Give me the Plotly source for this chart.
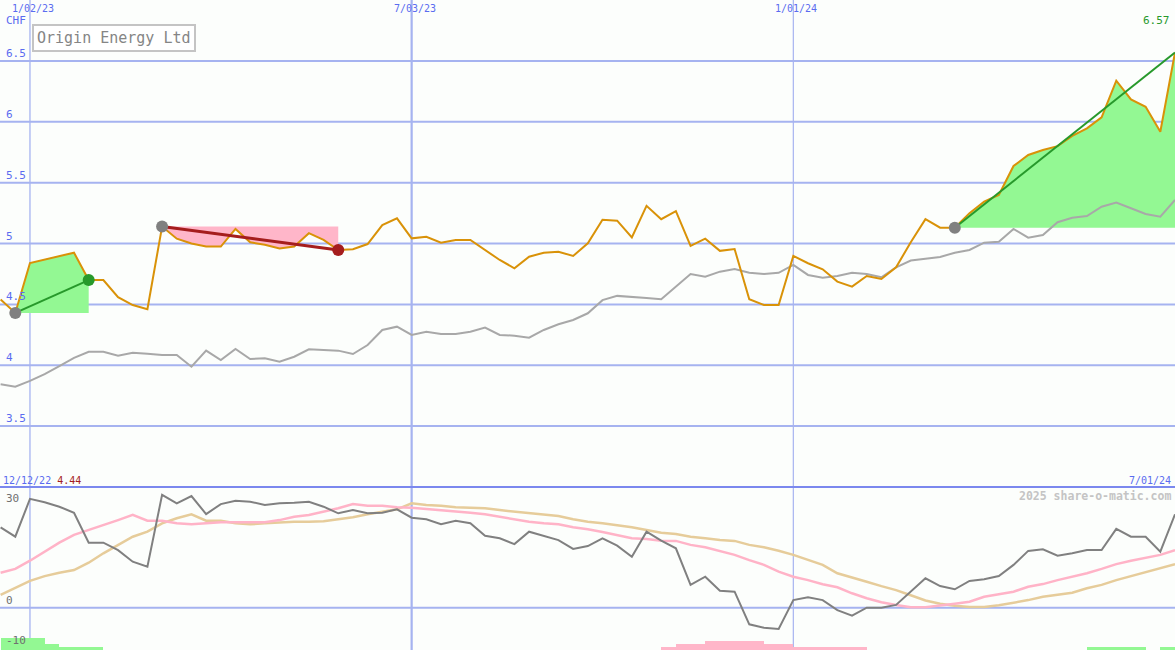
import plotly.graph_objects as go
import pandas as pd

# ---------------- data ----------------
start = pd.Timestamp("2022-12-19")
dates = [start + pd.Timedelta(weeks=i) for i in range(81)]

price = [4.54, 4.43, 4.84, 4.87, 4.90, 4.925, 4.70, 4.70, 4.56, 4.495,
         4.46, 5.14, 5.04, 5.00, 4.975, 4.975, 5.12, 5.01, 4.99, 4.96,
         4.975, 5.085, 5.03, 4.947, 4.953, 4.996, 5.152, 5.207, 5.043, 5.056,
         5.007, 5.029, 5.029, 4.947, 4.865, 4.797, 4.892, 4.925, 4.933, 4.898,
         5.002, 5.195, 5.188, 5.05, 5.31, 5.20, 5.267, 4.98, 5.04, 4.94,
         4.955, 4.542, 4.495, 4.495, 4.898, 4.838, 4.788, 4.687, 4.646, 4.733,
         4.709, 4.805, 5.01, 5.20, 5.13, 5.13, 5.25, 5.344, 5.399, 5.637,
         5.728, 5.769, 5.80, 5.884, 5.947, 6.037, 6.338, 6.185, 6.124, 5.919,
         6.57]

index_line = [3.843, 3.824, 3.871, 3.927, 3.993, 4.06, 4.111, 4.111, 4.078, 4.103,
              4.095, 4.084, 4.084, 3.988, 4.12, 4.043, 4.134, 4.051, 4.057, 4.029,
              4.07, 4.131, 4.125, 4.12, 4.092, 4.166, 4.29, 4.317, 4.249, 4.276,
              4.257, 4.257, 4.276, 4.309, 4.249, 4.243, 4.226, 4.29, 4.337, 4.372,
              4.427, 4.535, 4.57, 4.563, 4.553, 4.542, 4.648, 4.75, 4.728, 4.769,
              4.791, 4.76, 4.75, 4.76, 4.824, 4.742, 4.719, 4.733, 4.76, 4.75,
              4.723, 4.805, 4.86, 4.875, 4.89, 4.925, 4.947, 5.007, 5.015, 5.12,
              5.048, 5.07, 5.175, 5.212, 5.226, 5.303, 5.336, 5.29, 5.243, 5.221,
              5.358]

osc = [20.1, 17.75, 27.2, 26.35, 25.25, 23.75, 16.25, 16.25, 14.4, 11.5,
       10.25, 28.2, 26.1, 27.9, 23.4, 25.9, 26.75, 26.5, 25.7, 26.1,
       26.25, 26.5, 25.25, 23.6, 24.4, 23.6, 23.75, 24.6, 22.5, 22.1,
       20.9, 21.75, 21.1, 18.0, 17.35, 15.9, 19.0, 18.0, 16.9, 14.7,
       15.4, 17.35, 15.5, 12.75, 19.0, 16.75, 14.85, 5.7, 7.75, 4.25,
       4.0, -4.15, -5.0, -5.3, 1.9, 2.6, 1.9, -0.6, -2.0, 0.0,
       0.0, 0.7, 4.0, 7.35, 5.4, 4.6, 6.7, 7.1, 7.9, 10.7,
       14.2, 14.6, 13.0, 13.6, 14.4, 14.4, 19.7, 17.75, 17.75, 14.0,
       23.35]

pink_avg = [8.75, 9.7, 11.75, 14.0, 16.25, 18.2, 19.4, 20.7, 21.9, 23.2,
            21.75, 21.75, 21.1, 20.85, 21.1, 21.35, 21.35, 21.35, 21.35, 21.9,
            22.75, 23.2, 24.0, 24.85, 25.9, 25.5, 25.5, 25.1, 25.0, 24.7,
            24.4, 24.2, 23.75, 23.35, 22.75, 22.2, 21.5, 21.1, 20.85, 20.1,
            19.6, 18.9, 18.2, 17.35, 17.2, 16.75, 16.7, 15.7, 15.1, 14.2,
            13.2, 11.9, 10.7, 9.0, 7.75, 6.9, 5.85, 5.1, 3.6, 2.35,
            1.35, 0.7, 0.1, 0.1, 0.5, 1.0, 1.5, 2.75, 3.35, 4.0,
            5.25, 5.9, 6.9, 7.75, 8.6, 9.7, 10.9, 11.75, 12.5, 13.2,
            14.4]

tan_avg = [3.2, 4.85, 6.7, 7.9, 8.75, 9.4, 11.25, 13.6, 15.7, 17.75,
           19.0, 21.1, 22.35, 23.35, 21.75, 21.75, 21.1, 20.85, 21.1, 21.35,
           21.5, 21.5, 21.6, 22.1, 22.6, 23.35, 24.0, 24.6, 26.1, 25.7,
           25.5, 25.1, 25.0, 24.85, 24.4, 24.0, 23.75, 23.35, 22.9, 22.1,
           21.5, 21.1, 20.6, 20.1, 19.4, 18.75, 18.4, 17.75, 17.35, 16.9,
           16.7, 15.7, 15.1, 14.25, 13.2, 11.9, 10.7, 8.6, 7.6, 6.5,
           5.4, 4.4, 3.1, 1.8, 1.0, 0.5, 0.2, 0.2, 0.6, 1.25,
           1.9, 2.75, 3.2, 3.75, 4.85, 5.7, 6.9, 7.9, 9.0, 9.85,
           10.9]

# signed histogram: positive = green, negative = pink
hist = [2.9, 2.9, 2.9, 1.5, 0.8, 0.8, 0.8] + [0.0] * 38 + \
       [-0.7, -1.5, -1.5, -2.25, -2.25, -2.25, -2.25, -1.5, -1.5,
        -0.7, -0.7, -0.7, -0.7, -0.7] + [0.0] * 15 + \
       [0.7, 0.7, 0.7, 0.7, 0.0, 0.7, 0.7]

# trend segments: (start index, end index)
segments = [(1, 6), (11, 23), (65, 80)]

price_ticks = [3.5, 4, 4.5, 5, 5.5, 6, 6.5]
price_tick_labels = ["3.5", "4", "4.5", "5", "5.5", "6", "6.5"]
osc_ticks = [30, 0, -10]
osc_tick_labels = ["30", "0", "-10"]
date_lines = ["2023-01-02", "2023-07-03", "2024-01-01"]
date_line_labels = ["1/02/23", "7/03/23", "1/01/24"]
date_line_widths = [1.3, 2.2, 1.2]

title_text = "Origin Energy Ltd"
currency = "CHF"
start_label = "12/12/22"
start_value = "4.44"
end_label = "7/01/24"
last_value = "6.57"
credit = "2025 share-o-matic.com"

# ---------------- styling ----------------
W, H = 1175, 650
BG = "#fcfefc"
GRID = "#a6b3f0"
LBL = "#5a6cf0"
FONT = "DejaVu Sans Mono"
GREEN_FILL = "#93f893"
PINK_FILL = "#ffb6c9"
ORANGE = "#d99208"
GREY = "#a8a8a8"
GREEN = "#27992b"
RED = "#a51d1d"

x_range = [pd.Timestamp("2022-12-18 17:00"), pd.Timestamp("2024-07-01 00:00")]
main_top_px, main_bot_px = 0, 470
sub_top_px, sub_bot_px = 487, 650
main_range = [6.5 - (main_bot_px - 61) / 121.7, 6.5 + 61 / 121.7]
sub_range = [(607.7 - sub_bot_px) / 4.0, (607.7 - sub_top_px) / 4.0]

fig = go.Figure()

# fills
for (a, b) in segments:
    base = price[a]
    up = price[b] >= base
    xs = dates[a:b + 1] + [dates[b], dates[a]]
    ys = price[a:b + 1] + [base, base]
    fig.add_trace(go.Scatter(x=xs, y=ys, fill="toself", mode="none",
                             fillcolor=GREEN_FILL if up else PINK_FILL,
                             hoverinfo="skip", xaxis="x", yaxis="y"))

fig.add_trace(go.Scatter(x=dates, y=index_line, mode="lines",
                         line=dict(color=GREY, width=2), xaxis="x", yaxis="y"))
fig.add_trace(go.Scatter(x=dates, y=price, mode="lines",
                         line=dict(color=ORANGE, width=2), xaxis="x", yaxis="y"))

for (a, b) in segments:
    up = price[b] >= price[a]
    fig.add_trace(go.Scatter(x=[dates[a], dates[b]], y=[price[a], price[b]],
                             mode="lines",
                             line=dict(color=GREEN if up else RED, width=2 if up else 3),
                             xaxis="x", yaxis="y"))
    fig.add_trace(go.Scatter(x=[dates[a]], y=[price[a]], mode="markers",
                             marker=dict(color="#808080", size=12),
                             xaxis="x", yaxis="y"))
    if b < len(price) - 1:
        fig.add_trace(go.Scatter(x=[dates[b]], y=[price[b]], mode="markers",
                                 marker=dict(color=GREEN if up else RED, size=12),
                                 xaxis="x", yaxis="y"))

# lower panel
hist_x = [d for d, h in zip(dates, hist) if h != 0]
hist_y = [abs(h) for h in hist if h != 0]
hist_c = [GREEN_FILL if h > 0 else PINK_FILL for h in hist if h != 0]
fig.add_trace(go.Bar(x=hist_x, y=hist_y, base=sub_range[0], marker=dict(color=hist_c, line=dict(width=0)),
                     width=7 * 86400000, offset=0, xaxis="x2", yaxis="y2"))
fig.add_trace(go.Scatter(x=dates, y=tan_avg, mode="lines",
                         line=dict(color="#e6cc9a", width=2.5), xaxis="x2", yaxis="y2"))
fig.add_trace(go.Scatter(x=dates, y=pink_avg, mode="lines",
                         line=dict(color="#ffb3c7", width=2.5), xaxis="x2", yaxis="y2"))
fig.add_trace(go.Scatter(x=dates, y=osc, mode="lines",
                         line=dict(color="#808080", width=2), xaxis="x2", yaxis="y2"))

shapes = []
for d, w in zip(date_lines, date_line_widths):
    shapes.append(dict(type="line", xref="x", yref="paper", x0=d, x1=d, y0=0, y1=1,
                       line=dict(color=GRID, width=w), layer="below"))
for v in price_ticks:
    shapes.append(dict(type="line", xref="paper", yref="y", x0=0, x1=1, y0=v, y1=v,
                       line=dict(color=GRID, width=2), layer="below"))
shapes.append(dict(type="line", xref="paper", yref="y2", x0=0, x1=1, y0=0, y1=0,
                   line=dict(color=GRID, width=2), layer="below"))
shapes.append(dict(type="line", xref="paper", yref="y2 domain", x0=0, x1=1, y0=1, y1=1,
                   line=dict(color="#7b88ee", width=2.2), layer="above"))

def px_y(p):
    return 1 - p / H

def px_x(p):
    return p / W

ann = []
for v, t in zip(price_ticks, price_tick_labels):
    ann.append(dict(x=px_x(4), y=v, xref="paper", yref="y", text=t, showarrow=False,
                    xanchor="left", yanchor="bottom", yshift=-1,
                    font=dict(family=FONT, size=11, color=LBL)))
for v, t in zip(osc_ticks, osc_tick_labels):
    ann.append(dict(x=px_x(4), y=v, xref="paper", yref="y2", text=t, showarrow=False,
                    xanchor="left", yanchor="bottom" if v != osc_ticks[0] else "top",
                    yshift=-1 if v != osc_ticks[0] else -2,
                    font=dict(family=FONT, size=11, color="#707070")))
for d, t in zip(date_lines, date_line_labels):
    ann.append(dict(x=d, y=px_y(9), xref="x", yref="paper", text=t, showarrow=False,
                    xanchor="center", yanchor="middle", xshift=3,
                    font=dict(family=FONT, size=10, color=LBL)))
ann.append(dict(x=px_x(4), y=px_y(21), xref="paper", yref="paper", text=currency, showarrow=False,
                xanchor="left", yanchor="middle", font=dict(family=FONT, size=11, color=LBL)))
ann.append(dict(x=px_x(1172), y=px_y(21), xref="paper", yref="paper", text=last_value, showarrow=False,
                xanchor="right", yanchor="middle", font=dict(family=FONT, size=11, color=GREEN)))
ann.append(dict(x=px_x(1), y=px_y(480), xref="paper", yref="paper",
                text=f"<span style='color:{LBL}'>{start_label}</span> <span style='color:{RED}'>{start_value}</span>",
                showarrow=False, xanchor="left", yanchor="middle",
                font=dict(family=FONT, size=10, color=LBL)))
ann.append(dict(x=px_x(1173), y=px_y(480), xref="paper", yref="paper", text=end_label, showarrow=False,
                xanchor="right", yanchor="middle", font=dict(family=FONT, size=10, color=LBL)))
ann.append(dict(x=px_x(1173), y=px_y(496), xref="paper", yref="paper", text=f"<b>{credit}</b>",
                showarrow=False, xanchor="right", yanchor="middle",
                font=dict(family=FONT, size=11.5, color="#c4c4c4")))
ann.append(dict(x=px_x(32), y=px_y(24), xref="paper", yref="paper", text=title_text, showarrow=False,
                xanchor="left", yanchor="top", bgcolor="#ffffff", bordercolor="#c4c4c4",
                borderwidth=2, borderpad=3,
                font=dict(family=FONT, size=15, color="#858585")))

fig.update_layout(
    width=W, height=H, margin=dict(l=0, r=0, t=0, b=0),
    paper_bgcolor=BG, plot_bgcolor=BG, showlegend=False, bargap=0,
    xaxis=dict(range=x_range, type="date", showgrid=False, zeroline=False,
               showticklabels=False, ticks="", anchor="y", domain=[0, 1]),
    xaxis2=dict(range=x_range, type="date", showgrid=False, zeroline=False, matches="x",
                showticklabels=False, ticks="", anchor="y2", domain=[0, 1]),
    yaxis=dict(range=main_range, domain=[1 - main_bot_px / H, 1 - main_top_px / H],
               showgrid=False, zeroline=False, showticklabels=False, ticks=""),
    yaxis2=dict(range=sub_range, domain=[1 - sub_bot_px / H, 1 - sub_top_px / H],
                showgrid=False, zeroline=False, showticklabels=False, ticks=""),
    shapes=shapes, annotations=ann,
)

fig.write_html("out.html", config={"displayModeBar": False},
               post_script="document.body.style.margin='0';document.body.style.overflow='hidden';")
